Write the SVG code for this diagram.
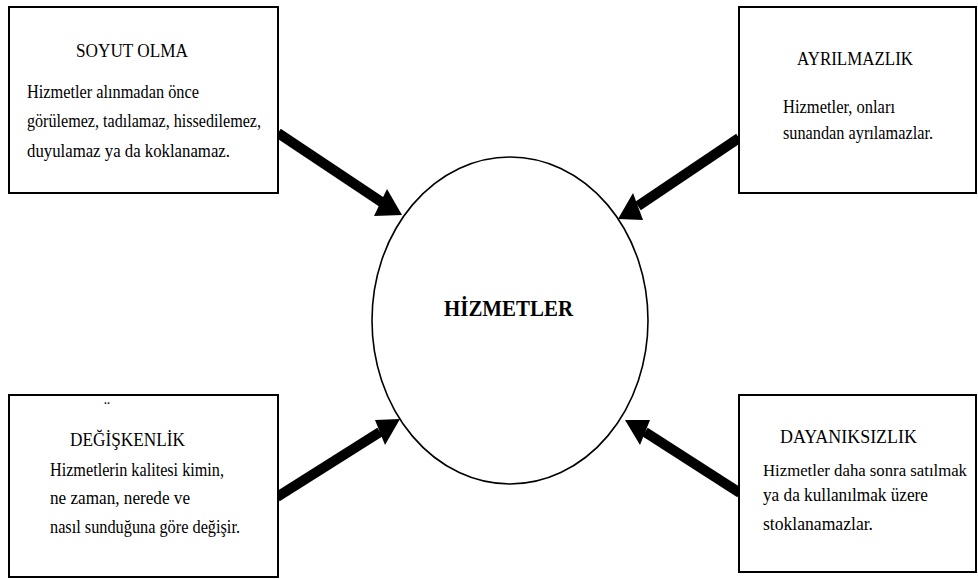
<svg xmlns="http://www.w3.org/2000/svg" width="978" height="579" viewBox="0 0 978 579">
  <style>
    .box { fill: #ffffff; stroke: #000000; stroke-width: 2; }
    .hub { fill: #ffffff; stroke: #000000; stroke-width: 1.6; }
    .shaft { stroke: #000000; stroke-width: 10; fill: none; }
    .head { fill: #000000; stroke: none; }
    .title { font-family: "Liberation Serif", "Times New Roman", serif; font-size: 19px; fill: #000000; }
    .body { font-family: "Liberation Serif", "Times New Roman", serif; font-size: 18px; fill: #000000; }
    .small { font-size: 16px; }
    .center { font-family: "Liberation Serif", "Times New Roman", serif; font-size: 23px; font-weight: bold; fill: #000000; }
  </style>
  <rect x="0" y="0" width="978" height="579" fill="#ffffff"/>

  <!-- arrows pointing into the central ellipse -->
  <g id="connectors">
    <line class="shaft" x1="278" y1="133" x2="383" y2="203"/>
    <polygon class="head" points="374,216 387,189 402,215"/>
    <line class="shaft" x1="739" y1="138" x2="638" y2="206"/>
    <polygon class="head" points="633,193 643,220 618,219"/>
    <line class="shaft" x1="277" y1="497" x2="380" y2="432"/>
    <polygon class="head" points="375,420 385,445 400,419"/>
    <line class="shaft" x1="740" y1="493" x2="645" y2="432"/>
    <polygon class="head" points="650,420 640,445 625,420"/>
  </g>

  <g id="hizmetler">
    <ellipse class="hub" cx="510" cy="320.5" rx="138" ry="163.5"/>
    <text class="center" x="444" y="316" textLength="129" lengthAdjust="spacingAndGlyphs">HİZMETLER</text>
  </g>

  <g id="soyut-olma">
    <rect class="box" x="9" y="7" width="269" height="186"/>
    <text class="title" x="76" y="57" textLength="112" lengthAdjust="spacingAndGlyphs">SOYUT OLMA</text>
    <text class="body" x="27" y="98" textLength="172" lengthAdjust="spacingAndGlyphs">Hizmetler alınmadan önce</text>
    <text class="body" x="27" y="127" textLength="234" lengthAdjust="spacingAndGlyphs">görülemez, tadılamaz, hissedilemez,</text>
    <text class="body" x="27" y="157" textLength="203" lengthAdjust="spacingAndGlyphs">duyulamaz ya da koklanamaz.</text>
  </g>

  <g id="ayrilmazlik">
    <rect class="box" x="739" y="7" width="237" height="186"/>
    <text class="title" x="797" y="65" textLength="116" lengthAdjust="spacingAndGlyphs">AYRILMAZLIK</text>
    <text class="body" x="783" y="113" textLength="112" lengthAdjust="spacingAndGlyphs">Hizmetler, onları</text>
    <text class="body" x="783" y="139" textLength="150" lengthAdjust="spacingAndGlyphs">sunandan ayrılamazlar.</text>
  </g>

  <g id="degiskenlik">
    <rect class="box" x="9" y="395" width="269" height="182"/>
    <text class="body" x="104" y="414" font-size="10">¨</text>
    <text class="title" x="70" y="446" textLength="115" lengthAdjust="spacingAndGlyphs">DEĞİŞKENLİK</text>
    <text class="body" x="50" y="476" textLength="174" lengthAdjust="spacingAndGlyphs">Hizmetlerin kalitesi kimin,</text>
    <text class="body" x="50" y="504" textLength="140" lengthAdjust="spacingAndGlyphs">ne zaman, nerede ve</text>
    <text class="body" x="50" y="533" textLength="190" lengthAdjust="spacingAndGlyphs">nasıl sunduğuna göre değişir.</text>
  </g>

  <g id="dayaniksizlik">
    <rect class="box" x="739" y="395" width="237" height="177"/>
    <text class="title" x="780" y="443" textLength="137" lengthAdjust="spacingAndGlyphs">DAYANIKSIZLIK</text>
    <text class="body small" x="763" y="476" textLength="204" lengthAdjust="spacingAndGlyphs">Hizmetler daha sonra satılmak</text>
    <text class="body" x="763" y="501" textLength="165" lengthAdjust="spacingAndGlyphs">ya da kullanılmak üzere</text>
    <text class="body" x="763" y="530" textLength="110" lengthAdjust="spacingAndGlyphs">stoklanamazlar.</text>
  </g>
</svg>
